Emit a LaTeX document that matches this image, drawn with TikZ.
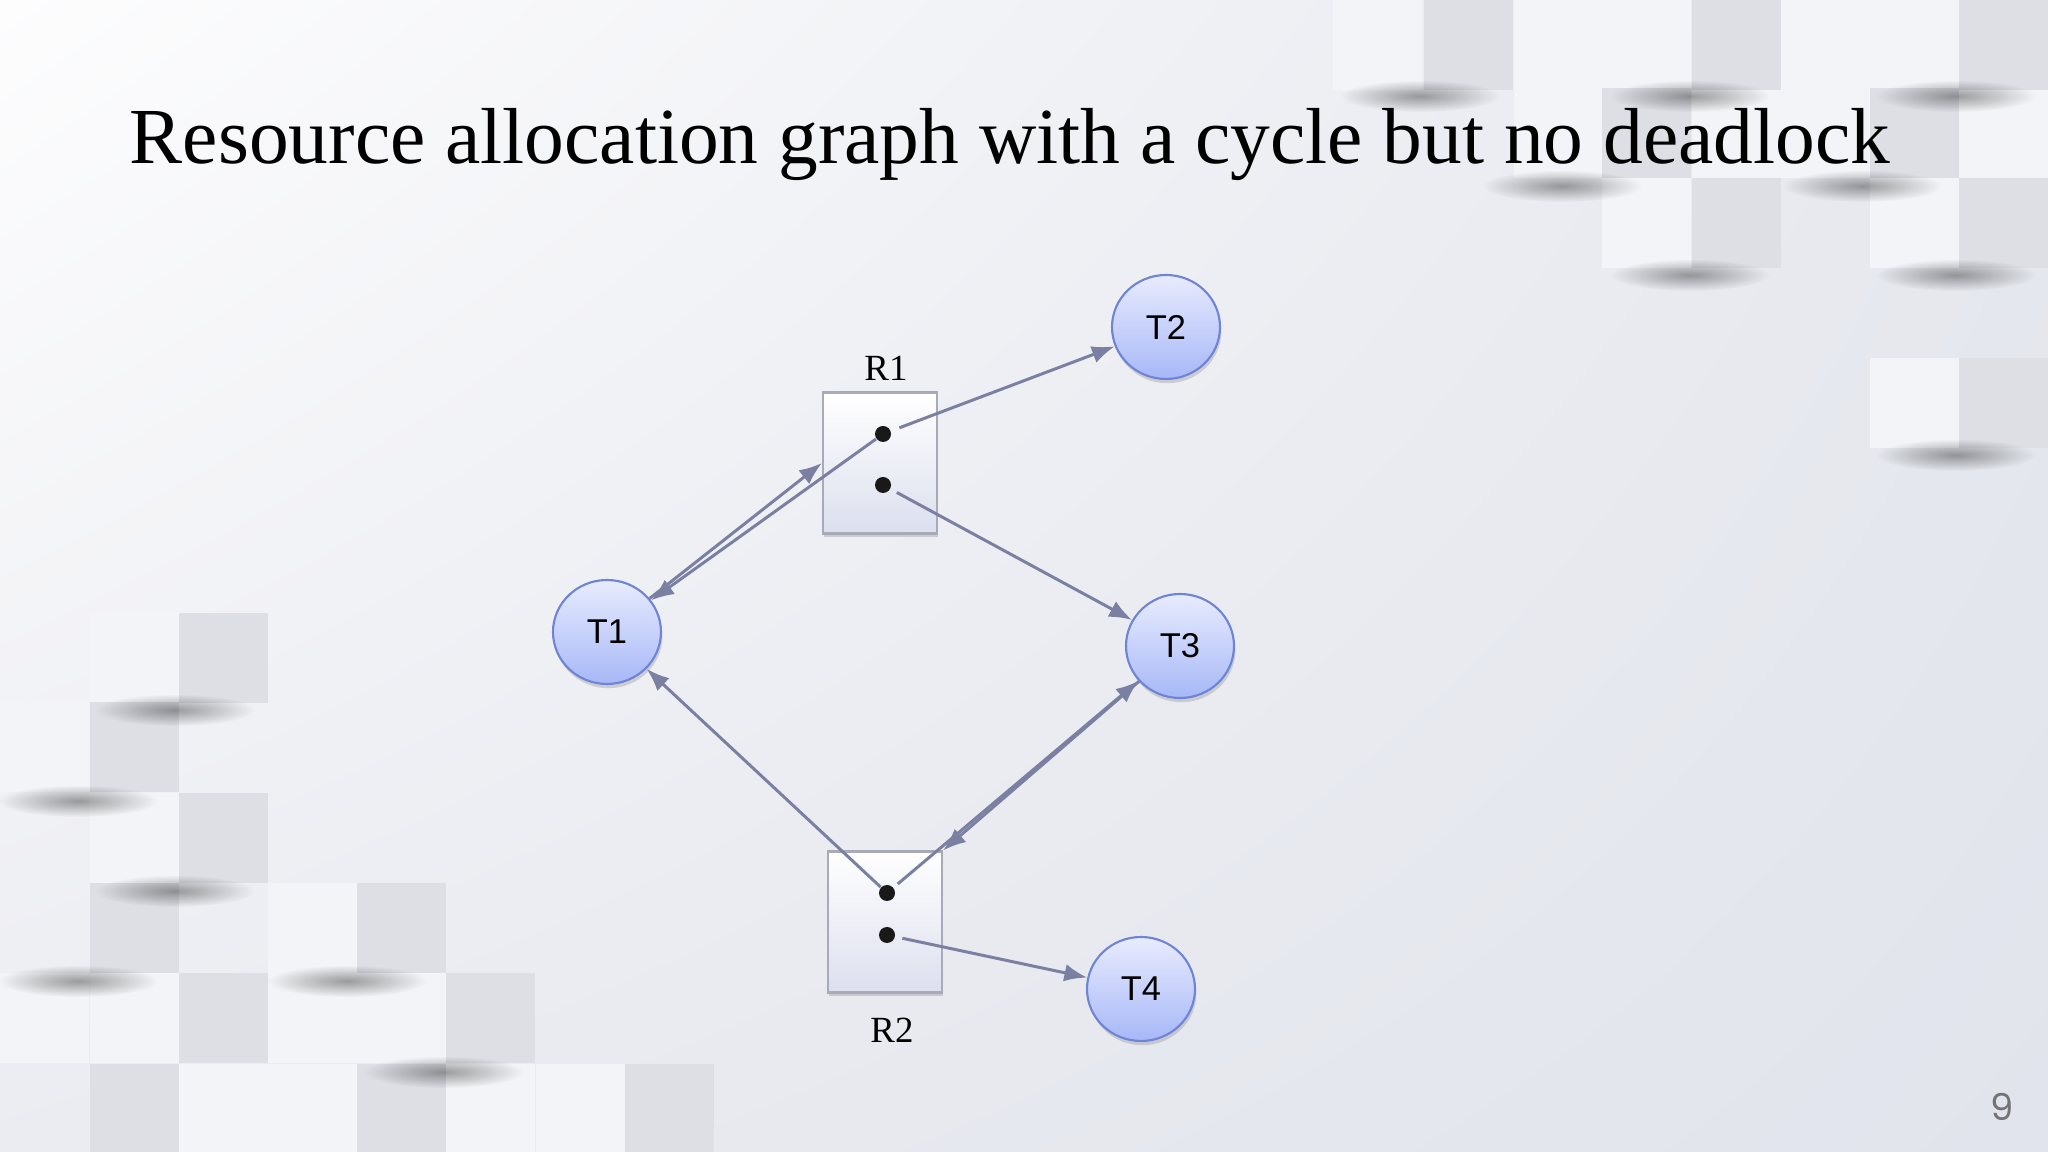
\documentclass[tikz,border=0pt]{standalone}
\usepackage{fontspec}
\setmainfont{Liberation Serif}
\newfontfamily\labelfont{Liberation Sans}
\newfontfamily\pagefont{Poppins}
\usetikzlibrary{arrows.meta,shadows,fadings,shadings,shapes.geometric}
\definecolor{edgecol}{HTML}{7B80A2}
\definecolor{tfill}{HTML}{A7B8F7}
\definecolor{tfilltop}{HTML}{E8ECFE}
\definecolor{tborder}{HTML}{6D84D8}
\definecolor{rborder}{HTML}{A9AAB8}
\definecolor{rfill}{HTML}{DCDFEE}
\definecolor{tileL}{HTML}{F3F4F7}
\definecolor{tileD}{HTML}{DEDFE5}
\definecolor{bgUL}{HTML}{FDFDFE}
\definecolor{bgUR}{HTML}{E6E8EE}
\definecolor{bgLL}{HTML}{EBECF1}
\definecolor{bgLR}{HTML}{E1E4EC}
\tikzfading[name=softfade,inner color=transparent!0,outer color=transparent!100]

\begin{document}
\begin{tikzpicture}[x=0.1mm,y=-0.1mm,
    tnode/.style={ellipse,draw=tborder,line width=0.6pt,top color=tfilltop,bottom color=tfill,
      minimum width=10.8mm,minimum height=10.4mm,inner sep=0pt,
      font=\labelfont\fontsize{9.8}{12}\selectfont,
      drop shadow={opacity=0.3,shadow xshift=0.4pt,shadow yshift=-1.2pt}},
    rnode/.style={rectangle,draw=rborder,line width=0.6pt,top color=white,bottom color=rfill,
      minimum width=11.4mm,minimum height=14.1mm,
      drop shadow={opacity=0.3,shadow xshift=0.3pt,shadow yshift=-1pt}},
    inst/.style={circle,fill=black!90,inner sep=0pt,minimum size=1.6mm},
    rlabel/.style={font=\fontsize{10.5}{12}\selectfont},
    edge/.style={draw=edgecol,line width=0.85pt,-{Latex[length=6.5pt,width=5pt]}},
    tshadow/.style={fill=black,opacity=0.36,path fading=softfade}]

    % background and tiles
    \useasboundingbox (0,0) rectangle (2048,1152);
    \shade[upper left=bgUL,upper right=bgUR,lower left=bgLL,lower right=bgLR] (0,0) rectangle (2048,1152);
    \foreach \x/\y in {90/613,0/702,90/793,268/883,0/973,90/973,268/973,357/973,179/1064,268/1064,446/1064,536/1064,
        1333/0,1514/0,1602/0,1781/0,1870/0,1514/88,1692/88,1781/88,1959/88,1602/178,1870/178,1870/358}
      \fill[tileL] (\x,\y) rectangle +(89,90);
    \foreach \x/\y in {179/613,90/702,179/793,90/883,357/883,179/973,446/973,90/1064,357/1064,625/1064,
        1424/0,1692/0,1959/0,1602/88,1870/88,1692/178,1959/178,1959/358}
      \fill[tileD] (\x,\y) rectangle +(89,90);
    \foreach \x/\y in {175/710,78/801,175/891,78/981,347/981,444/1072,
        1420/96,1690/96,1956/96,1562/186,1862/186,1690/275,1956/275,1956/455}
      \fill[tshadow] (\x,\y) ellipse [x radius=80,y radius=16];

    % title and page number
    \node[font=\fontsize{22.6}{27}\selectfont,anchor=base] (title) at (1010,164)
      {Resource allocation graph with a cycle but no deadlock};
    \node[font=\pagefont\fontsize{10.5}{12}\selectfont,text=black!55] (pagenum) at (2002,1107) {9};

    % threads
    \node[tnode] (t1) at (607,632) {T1};
    \node[tnode] (t2) at (1166,327) {T2};
    \node[tnode] (t3) at (1180,646) {T3};
    \node[tnode] (t4) at (1141,989) {T4};

    % resources
    \node[rnode] (r1) at (880,463) {};
    \node[rnode] (r2) at (885,922) {};
    \node[rlabel] (r1lab) at (886,368) {R1};
    \node[rlabel] (r2lab) at (892,1030) {R2};
    \node[inst] (r1a) at (883,434) {};
    \node[inst] (r1b) at (883,485) {};
    \node[inst] (r2a) at (887,893) {};
    \node[inst] (r2b) at (887,935) {};

    % edges
    \draw[edge,shorten <=2.5pt] (r1a) -- (t2);
    \draw[edge] (t1) -- (r1.west);
    \draw[edge] (r1a) -- (t1);
    \draw[edge,shorten <=2pt] (r1b) -- (t3);
    \draw[edge] (r2a) -- (t1);
    \draw[edge] (t3) -- (r2.north east);
    \draw[edge,shorten <=1.5pt] (r2a) -- (t3);
    \draw[edge,shorten <=2pt] (r2b) -- (t4);
\end{tikzpicture}
\end{document}
